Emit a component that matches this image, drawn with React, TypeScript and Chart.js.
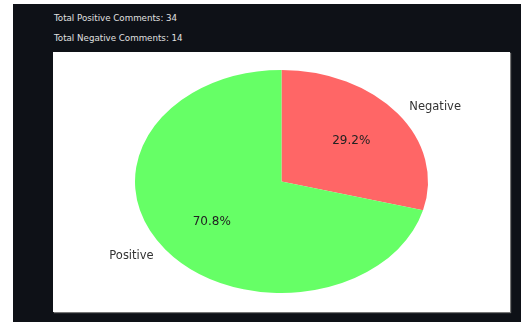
import React, { useEffect, useRef } from "react";
import { Chart, registerables } from "chart.js";

Chart.register(...registerables);

const categories = ["Negative", "Positive"];
const counts = [14, 34];
const sliceColors = ["#ff6666", "#66ff66"];
const headerLines = [
  `Total Positive Comments: ${counts[1]}`,
  `Total Negative Comments: ${counts[0]}`,
];

const X_STRETCH = 146.5 / 111.5;

const ellipsePlugin = {
  id: "ellipse",
  beforeDatasetsDraw(chart: any) {
    const a = chart.chartArea;
    const cx = (a.left + a.right) / 2;
    const cy = (a.top + a.bottom) / 2;
    const ctx = chart.ctx;
    ctx.save();
    ctx.translate(cx, cy);
    ctx.scale(X_STRETCH, 1);
    ctx.translate(-cx, -cy);
  },
  afterDatasetsDraw(chart: any) {
    chart.ctx.restore();
  },
  afterDraw(chart: any) {
    const ctx = chart.ctx;
    const meta = chart.getDatasetMeta(0);
    const data = chart.data.datasets[0].data as number[];
    const total = data.reduce((s, v) => s + v, 0);
    ctx.save();
    meta.data.forEach((arc: any, i: number) => {
      const p = arc.getProps(["x", "y", "startAngle", "endAngle", "outerRadius"], true);
      const mid = (p.startAngle + p.endAngle) / 2;
      const c = Math.cos(mid);
      const s = Math.sin(mid);
      const r = p.outerRadius;
      ctx.font = "12px 'DejaVu Sans'";
      ctx.fillStyle = "#222";
      ctx.textAlign = "center";
      ctx.textBaseline = "middle";
      const pct = ((data[i] / total) * 100).toFixed(1) + "%";
      ctx.fillText(pct, p.x + c * r * 0.6 * X_STRETCH, p.y + s * r * 0.6);
      ctx.font = "11.5px 'DejaVu Sans'";
      ctx.fillStyle = "#333";
      ctx.textAlign = c >= 0 ? "left" : "right";
      ctx.fillText(
        chart.data.labels[i],
        p.x + c * r * 1.1 * X_STRETCH,
        p.y + s * r * 1.1
      );
    });
    ctx.restore();
  },
};

function PieChart() {
  const ref = useRef<HTMLCanvasElement | null>(null);
  useEffect(() => {
    if (!ref.current) return;
    const chart = new Chart(ref.current, {
      type: "pie",
      data: {
        labels: categories,
        datasets: [
          {
            data: counts,
            backgroundColor: sliceColors,
            borderWidth: 0,
          },
        ],
      },
      options: {
        animation: false,
        responsive: false,
        maintainAspectRatio: false,
        events: [],
        layout: { padding: { top: 18, bottom: 19, left: 0, right: 0 } },
        plugins: {
          legend: { display: false },
          tooltip: { enabled: false },
        },
      },
      plugins: [ellipsePlugin],
    });
    return () => chart.destroy();
  }, []);
  return <canvas ref={ref} width={457} height={260} style={{ display: "block" }} />;
}

export default function App() {
  return (
    <div
      style={{
        position: "fixed",
        left: 0,
        top: 0,
        width: 523,
        height: 322,
        background: "#ffffff",
        overflow: "hidden",
      }}
    >
      <div
        style={{
          position: "absolute",
          left: 13,
          top: 4,
          width: 508,
          height: 318,
          background: "#0e1117",
        }}
      >
        {headerLines.map((t, i) => (
          <div
            key={i}
            style={{
              position: "absolute",
              left: 41,
              top: 9 + i * 20,
              font: "8.7px 'DejaVu Sans', sans-serif",
              color: "#e0e0e0",
              whiteSpace: "nowrap",
              lineHeight: "10px",
            }}
          >
            {t}
          </div>
        ))}
        <div
          style={{
            position: "absolute",
            left: 40,
            top: 48,
            width: 457,
            height: 260,
            background: "#ffffff",
            boxShadow: "1px 1px 1px #777",
          }}
        >
          <PieChart />
        </div>
      </div>
    </div>
  );
}
